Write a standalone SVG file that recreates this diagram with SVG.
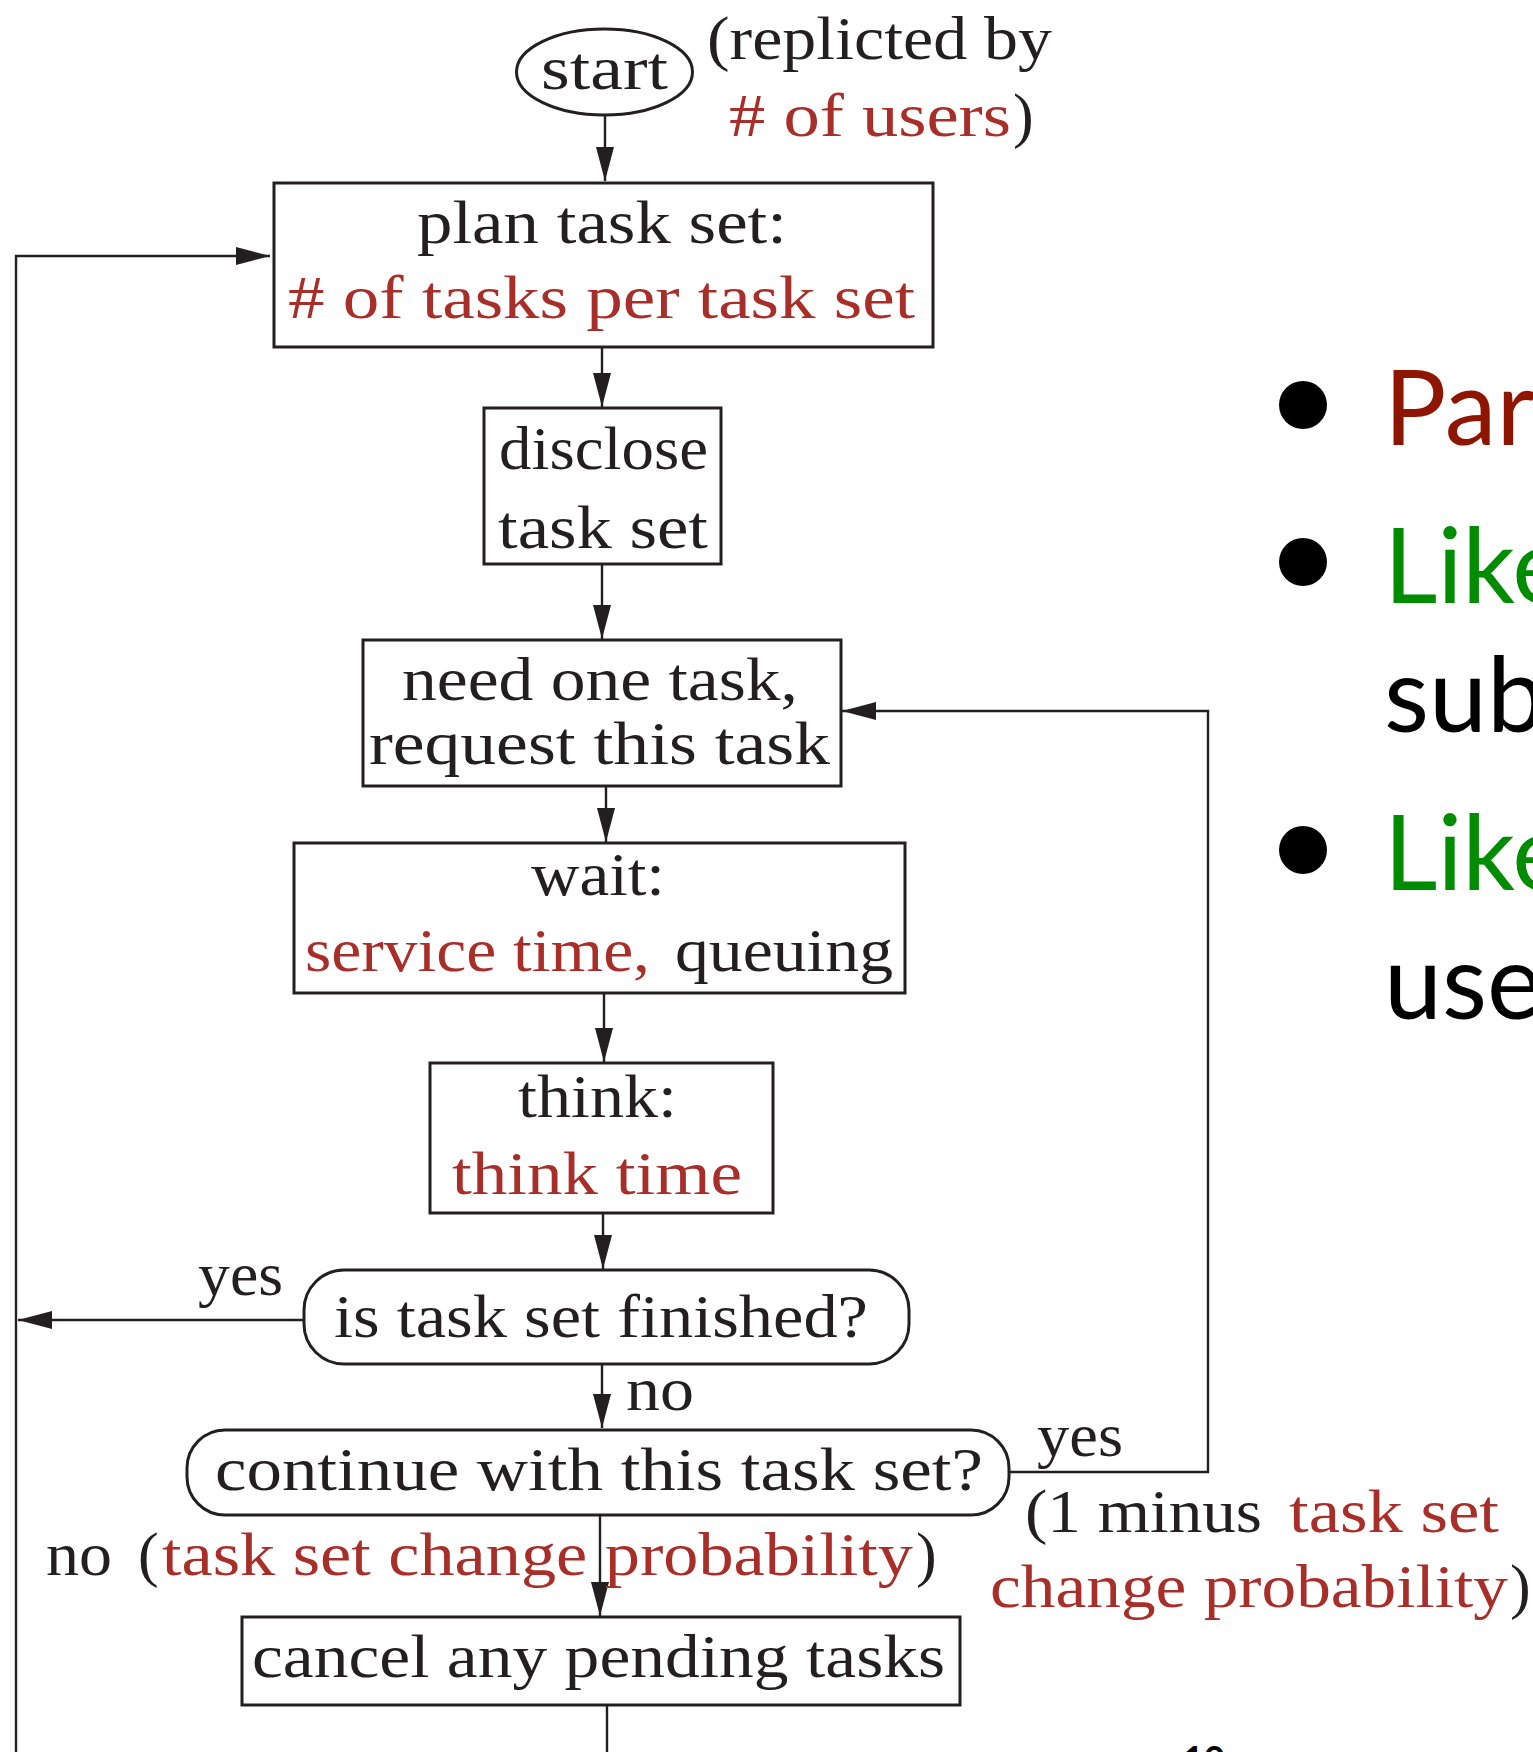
<svg xmlns="http://www.w3.org/2000/svg" width="1533" height="1752" viewBox="0 0 1533 1752">
<style>
.box{fill:#fff;stroke:#231F20;stroke-width:3}
.ln{fill:none;stroke:#231F20;stroke-width:2.4}
.t{font-family:"Liberation Serif","DejaVu Serif",serif;font-size:62px;fill:#231F20}
.r{fill:#A82E2A}
.s{font-family:Lato,"Open Sans",sans-serif;font-size:104px}
</style>
<defs>
<marker id="ah" markerUnits="userSpaceOnUse" markerWidth="36" markerHeight="20" refX="34" refY="9" orient="auto">
<path d="M0,0 L34,9 L0,18 Z" fill="#231F20"/>
</marker>
</defs>
<rect width="1533" height="1752" fill="#fff"/>

<g id="connectors">
<path class="ln" d="M605,115 L605,181" marker-end="url(#ah)"/>
<path class="ln" d="M602,347 L602,407" marker-end="url(#ah)"/>
<path class="ln" d="M602,564 L602,639" marker-end="url(#ah)"/>
<path class="ln" d="M606,786 L606,842" marker-end="url(#ah)"/>
<path class="ln" d="M604,993 L604,1062" marker-end="url(#ah)"/>
<path class="ln" d="M603,1213 L603,1269" marker-end="url(#ah)"/>
<path class="ln" d="M602,1364 L602,1428" marker-end="url(#ah)"/>
<path class="ln" d="M600,1515 L600,1616" marker-end="url(#ah)"/>
<path class="ln" d="M607,1705 L607,1752"/>
<path class="ln" d="M304,1320 L18,1320" marker-end="url(#ah)"/>
<path class="ln" d="M16,1752 L16,256 L270,256" marker-end="url(#ah)"/>
<path class="ln" d="M1009,1472 L1208,1472 L1208,711 L842,711" marker-end="url(#ah)"/>
</g>

<g id="start">
<ellipse class="box" cx="604.5" cy="72" rx="88" ry="43" stroke-width="2.6"/>
<text class="t" x="541" y="89" textLength="127" lengthAdjust="spacingAndGlyphs">start</text>
</g>
<g id="replicated-note">
<text class="t" x="707" y="59" textLength="345" lengthAdjust="spacingAndGlyphs">(replicted by</text>
<text class="t r" x="729" y="136" textLength="282" lengthAdjust="spacingAndGlyphs"># of users</text>
<text class="t" x="1013" y="136">)</text>
</g>

<g id="plan">
<rect class="box" x="274" y="183" width="659" height="164"/>
<text class="t" x="417" y="243" textLength="370" lengthAdjust="spacingAndGlyphs">plan task set:</text>
<text class="t r" x="288" y="318" textLength="627" lengthAdjust="spacingAndGlyphs"># of tasks per task set</text>
</g>

<g id="disclose">
<rect class="box" x="484" y="408" width="237" height="156"/>
<text class="t" x="499" y="469" textLength="209" lengthAdjust="spacingAndGlyphs">disclose</text>
<text class="t" x="498" y="548" textLength="210" lengthAdjust="spacingAndGlyphs">task set</text>
</g>

<g id="need">
<rect class="box" x="363" y="640" width="478" height="146"/>
<text class="t" x="402" y="700" textLength="396" lengthAdjust="spacingAndGlyphs">need one task,</text>
<text class="t" x="369" y="764" textLength="461" lengthAdjust="spacingAndGlyphs">request this task</text>
</g>

<g id="wait">
<rect class="box" x="294" y="843" width="611" height="150"/>
<text class="t" x="531" y="895" textLength="134" lengthAdjust="spacingAndGlyphs">wait:</text>
<text class="t r" x="305" y="971" textLength="345" lengthAdjust="spacingAndGlyphs">service time,</text>
<text class="t" x="675" y="971" textLength="218" lengthAdjust="spacingAndGlyphs">queuing</text>
</g>

<g id="think">
<rect class="box" x="430" y="1063" width="343" height="150"/>
<text class="t" x="518" y="1117" textLength="159" lengthAdjust="spacingAndGlyphs">think:</text>
<text class="t r" x="452" y="1194" textLength="290" lengthAdjust="spacingAndGlyphs">think time</text>
</g>

<g id="finished">
<rect class="box" x="304" y="1270" width="605" height="94" rx="40" ry="40"/>
<text class="t" x="334" y="1337" textLength="534" lengthAdjust="spacingAndGlyphs">is task set finished?</text>
<text class="t" x="198" y="1295" textLength="85" lengthAdjust="spacingAndGlyphs">yes</text>
<text class="t" x="626" y="1410" textLength="68" lengthAdjust="spacingAndGlyphs">no</text>
</g>

<g id="continue">
<rect class="box" x="187" y="1430" width="822" height="85" rx="38" ry="38"/>
<text class="t" x="215" y="1490" textLength="768" lengthAdjust="spacingAndGlyphs">continue with this task set?</text>
<text class="t" x="1037" y="1456" textLength="86" lengthAdjust="spacingAndGlyphs">yes</text>
<text class="t" x="1025" y="1532" textLength="237" lengthAdjust="spacingAndGlyphs">(1 minus</text>
<text class="t r" x="1289" y="1532" textLength="210" lengthAdjust="spacingAndGlyphs">task set</text>
<text class="t r" x="990" y="1607" textLength="518" lengthAdjust="spacingAndGlyphs">change probability</text>
<text class="t" x="1510" y="1607">)</text>
<text class="t" x="46" y="1575" textLength="66" lengthAdjust="spacingAndGlyphs">no</text>
<text class="t" x="138" y="1575">(</text>
<text class="t r" x="162" y="1575" textLength="751" lengthAdjust="spacingAndGlyphs">task set change probability</text>
<text class="t" x="916" y="1575">)</text>
</g>

<g id="cancel">
<rect class="box" x="242" y="1617" width="718" height="88"/>
<text class="t" x="252" y="1677" textLength="693" lengthAdjust="spacingAndGlyphs">cancel any pending tasks</text>
</g>

<g id="slide-bullets">
<circle cx="1303" cy="405" r="24" fill="#000"/>
<circle cx="1303" cy="562" r="24" fill="#000"/>
<circle cx="1303" cy="850" r="24" fill="#000"/>
<text class="s" x="1384" y="445" fill="#8E1500">Par</text>
<text class="s" x="1384" y="603" fill="#008C00">Like</text>
<text class="s" x="1384" y="732" fill="#000">sub</text>
<text class="s" x="1384" y="890" fill="#008C00">Like</text>
<text class="s" x="1384" y="1019" fill="#000">use</text>
<text x="1183" y="1772" font-family="Lato,sans-serif" font-size="36" font-weight="bold" fill="#000">10</text>
</g>
</svg>
